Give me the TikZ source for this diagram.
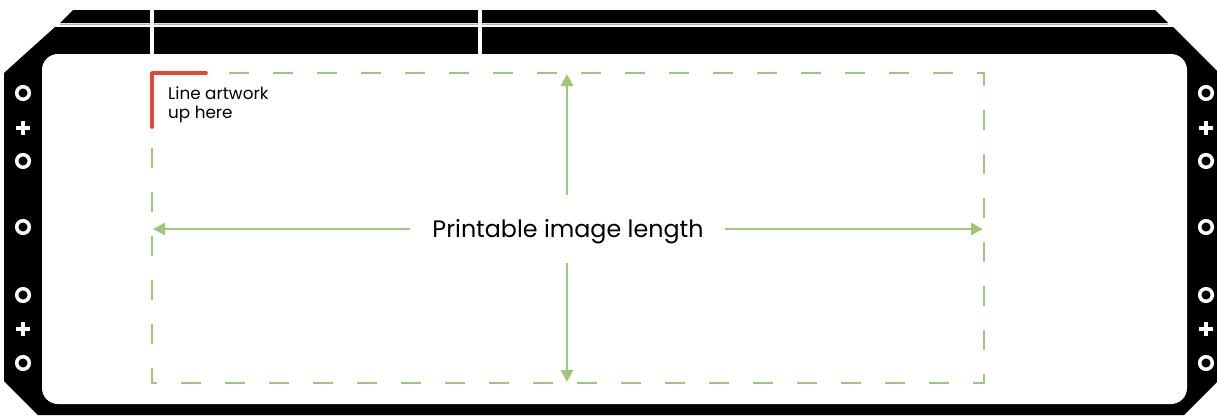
\documentclass[tikz,border=0pt]{standalone}
\usepackage{fontspec}
\setmainfont{Poppins}
\usetikzlibrary{arrows.meta}
\definecolor{dashgreen}{RGB}{157,200,124}
\definecolor{markred}{RGB}{232,70,52}
\begin{document}
\begin{tikzpicture}[x=1pt,y=-1pt,
  frame/.style={fill=black},
  gapfill/.style={fill=white},
  guide/.style={draw=dashgreen, line width=2.8pt, dash pattern=on 20pt off 24pt, dash phase=11pt},
  measure/.style={draw=dashgreen, line width=2.8pt, -{Triangle[length=12pt,width=12pt]}},
  ring/.style={draw=white, line width=3.5pt},
  crossbar/.style={draw=white, line width=3.6pt},
  corner/.style={draw=markred, line width=3.8pt, line cap=round, line join=round},
  smalltext/.style={font=\fontsize{16.8}{18.5}\selectfont, align=left, anchor=north west, inner sep=0pt},
  bigtext/.style={font=\fontsize{23.8}{26}\selectfont, inner sep=0pt}]
\useasboundingbox (0,0) rectangle (1217,415);
% frame
\fill[frame] (73,10) -- (1155,10) -- (1168,23) -- (60,23) -- cycle;
\fill[frame] (55,27) -- (1173,27) -- (1217,71) -- (1217,382) -- (1184,415)
  -- (38,415) -- (4,381) -- (4,73) -- cycle;
\draw[gray!60, line width=1pt] (60,24) -- (1168,24);
\fill[gapfill] (150,8) rectangle (154,54);
\fill[gapfill] (478,8) rectangle (482,54);
\fill[gapfill, rounded corners=16pt] (42,54) rectangle (1187,404);
% icons
\foreach \x in {23,1206} {
  \foreach \y in {93,161,227,295,363} \draw[ring] (\x,\y) circle (6.3pt);
  \foreach \y in {128,329} {
    \draw[crossbar] (\x-7,\y) -- (\x+7,\y);
    \draw[crossbar] (\x,\y-7) -- (\x,\y+7);
  }
}
% printable area
\coordinate (tl) at (152,73);
\coordinate (br) at (984,383);
\draw[guide] (tl) -- (984,73) -- (br) -- (152,383) -- cycle;
\draw[corner] (152,127) -- (tl) -- (206,73);
\node[smalltext] (note) at (168,87) {Line artwork\\up here};
\node[bigtext] (label) at (568,232) {Printable image length};
\coordinate (lstart) at (410,229);
\coordinate (lend) at (153,229);
\coordinate (rstart) at (725,229);
\coordinate (rend) at (983,229);
\coordinate (ustart) at (567,195);
\coordinate (uend) at (567,74);
\coordinate (dstart) at (567,263);
\coordinate (dend) at (567,382);
\draw[measure] (lstart) -- (lend);
\draw[measure] (rstart) -- (rend);
\draw[measure] (ustart) -- (uend);
\draw[measure] (dstart) -- (dend);
\end{tikzpicture}
\end{document}
